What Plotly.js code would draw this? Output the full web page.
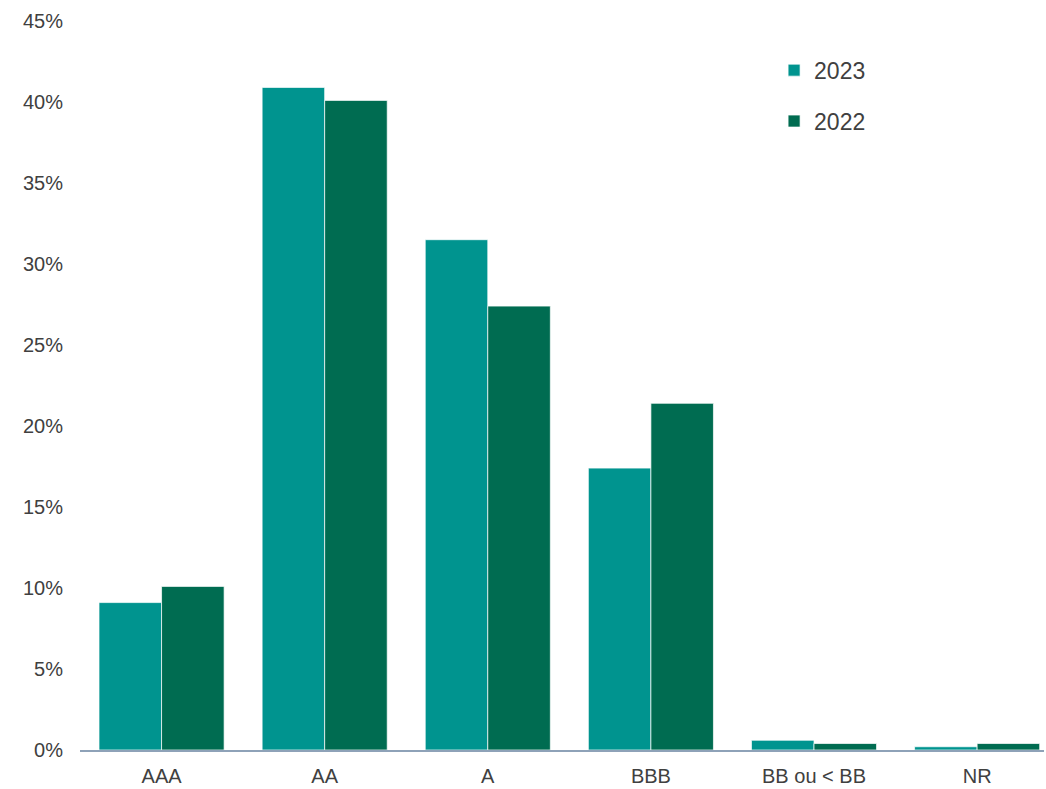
<!DOCTYPE html>
<html>
<head>
<meta charset="utf-8">
<script src="https://cdn.plot.ly/plotly-3.0.1.min.js"></script>
<style>html,body{margin:0;padding:0;background:#fff;}#chart{width:1046px;height:789px;}</style>
</head>
<body>
<div id="chart"></div>
<script>
const categories = ["AAA", "AA", "A", "BBB", "BB ou < BB", "NR"];
const values2023 = [9.1, 40.9, 31.5, 17.4, 0.6, 0.2];
const values2022 = [10.1, 40.1, 27.4, 21.4, 0.4, 0.4];
const seriesNames = ["2023", "2022"];
const tickVals = [0, 5, 10, 15, 20, 25, 30, 35, 40, 45];
const tickText = tickVals.map(v => v + "%");

const font = {family: "Liberation Sans, Arial, sans-serif", size: 20, color: "#404040"};

const traces = [
  {type: "bar", name: seriesNames[0], x: categories, y: values2023, legendgroup: "a",
   marker: {color: "#00948F", line: {color: "rgba(255,255,255,0.7)", width: 1}}, hoverinfo: "none"},
  {type: "bar", name: seriesNames[1], x: categories, y: values2022, legendgroup: "b",
   marker: {color: "#006C51", line: {color: "rgba(255,255,255,0.7)", width: 1}}, hoverinfo: "none"}
];

const layout = {
  width: 1046, height: 789,
  margin: {l: 80, r: 2, t: 21, b: 39},
  paper_bgcolor: "#ffffff", plot_bgcolor: "#ffffff",
  font: font,
  barmode: "group", bargap: 0.233, bargroupgap: 0,
  showlegend: true,
  legend: {x: 0.72, y: 0.962, xanchor: "left", yanchor: "top", font: {family: font.family, size: 23, color: "#404040"},
           traceorder: "grouped", tracegroupgap: 18, bgcolor: "rgba(0,0,0,0)", itemwidth: 30},
  xaxis: {type: "category", range: [-0.5, 5.41], showgrid: false, zeroline: false,
          showline: true, linecolor: "#8EA2B8", linewidth: 2, ticks: "", tickfont: font, ticklabelstandoff: 7},
  yaxis: {range: [0, 45], tickvals: tickVals, ticktext: tickText, tickmode: "array", showgrid: false, zeroline: false,
          showline: false, ticks: "", tickfont: font, ticklabelstandoff: 16}
};

Plotly.newPlot("chart", traces, layout, {staticPlot: true});
</script>
</body>
</html>
